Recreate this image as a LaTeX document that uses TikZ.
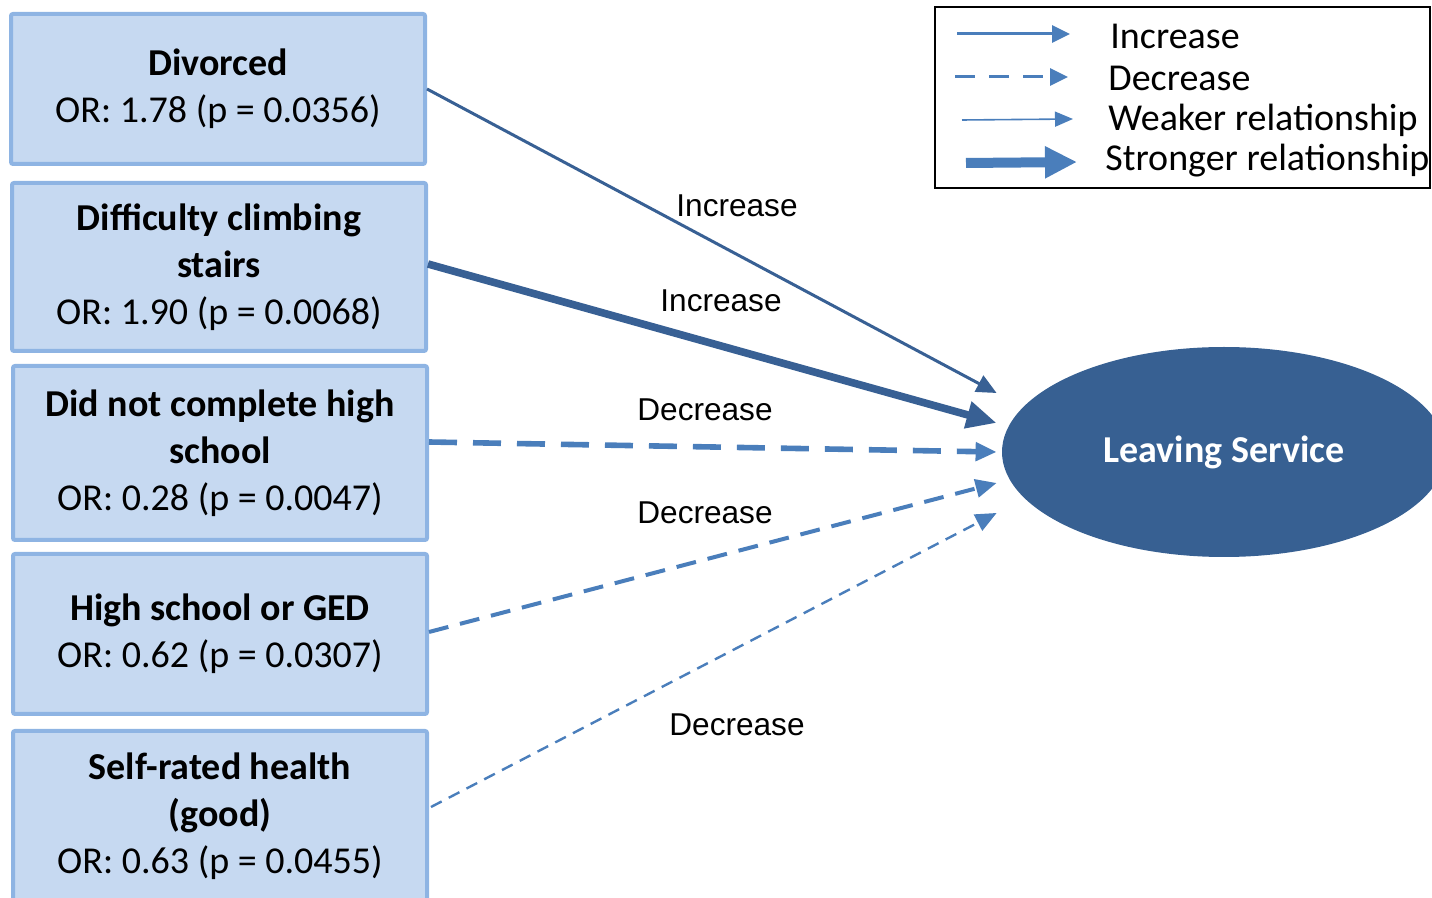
\documentclass[tikz,border=0pt]{standalone}
\usepackage{fontspec}
\setmainfont{Carlito}
\newfontfamily\arialfont{Liberation Sans}
\usetikzlibrary{shapes.geometric, arrows.meta, positioning, calc}
\definecolor{boxfill}{HTML}{C6D9F1}
\definecolor{boxline}{HTML}{8EB4E3}
\definecolor{darkblue}{HTML}{386094}
\definecolor{midblue}{HTML}{4A7EBB}
\definecolor{ovalblue}{HTML}{376092}

\begin{document}
\begin{tikzpicture}[x=0.5pt, y=-0.5pt,
    factor/.style={rectangle, draw=boxline, fill=boxfill, line width=2pt, rounded corners=1pt, minimum width=207pt, align=center, inner sep=0pt, font=\fontsize{19}{23.5}\selectfont},
    outcome/.style={ellipse, fill=ovalblue, text=white, minimum width=222pt, minimum height=105pt, inner sep=0pt, font=\fontsize{19}{22}\selectfont\bfseries},
    lbl/.style={font=\arialfont\fontsize{15.8}{18}\selectfont},
    legtext/.style={anchor=west, inner sep=0pt, font=\fontsize{19}{22}\selectfont},
    inc/.style={darkblue, -{Triangle[length=10pt, width=9pt]}},
    dec/.style={midblue, -{Triangle[length=10.5pt, width=9pt]}}
]
\useasboundingbox (0,0) rectangle (1432,898);
\clip (0,0) rectangle (1432,898);

% predictors
\node[factor, minimum height=75pt] (div) at (218,89) {\textbf{Divorced}\\OR: 1.78 (p = 0.0356)};
\node[factor, minimum height=84pt] (stairs) at (219,267) {\textbf{Difficulty climbing}\\\textbf{stairs}\\OR: 1.90 (p = 0.0068)};
\node[factor, minimum height=87pt] (nohs) at (220,453) {\textbf{Did not complete high}\\\textbf{school}\\OR: 0.28 (p = 0.0047)};
\node[factor, minimum height=80pt] (ged) at (220,634) {\textbf{High school or GED}\\OR: 0.62 (p = 0.0307)};
\node[factor, minimum height=85pt, anchor=north] (health) at (220,729) {\textbf{Self-rated health}\\\textbf{(good)}\\OR: 0.63 (p = 0.0455)};

% outcome
\node[outcome] (leave) at (1224,452) {Leaving Service};

% effects
\draw[inc, line width=1.5pt] (div.east) -- ($(leave.west)+(-5,-59)$);
\draw[darkblue, line width=3.8pt, -{Triangle[length=15pt, width=13pt]}] ($(stairs.east)+(0,-3)$) -- ($(leave.west)+(-5,-29)$);
\draw[dec, line width=2.8pt, dash pattern=on 14pt off 8pt] ($(nohs.east)+(0,-11)$) -- ($(leave.west)+(-5,0)$);
\draw[dec, line width=2pt, dash pattern=on 10pt off 6pt] ($(ged.east)+(0,-2)$) -- ($(leave.west)+(-5,31)$);
\draw[dec, line width=1.2pt, dash pattern=on 6pt off 4pt] ($(health.east)+(2,-9)$) -- ($(leave.west)+(-5,61)$);

\node[lbl] (l1) at (737,206) {Increase};
\node[lbl] (l2) at (721,301) {Increase};
\node[lbl] (l3) at (705,410) {Decrease};
\node[lbl] (l4) at (705,513) {Decrease};
\node[lbl] (l5) at (737,725) {Decrease};

% legend
\node[draw, line width=1pt, minimum width=247.5pt, minimum height=90.5pt, inner sep=0pt] (legend) at (1182.5,97.5) {};
\node[legtext] (tinc) at (1110,36) {Increase};
\node[legtext] (tdec) at (1108,78) {Decrease};
\node[legtext] (tweak) at (1108,120) {Weaker relationship};
\node[legtext] (tstrong) at (1105,161) {Stronger relationship};
\coordinate (a1) at (957,34);   \coordinate (b1) at (1070,34);
\coordinate (a2) at (955,77);   \coordinate (b2) at (1068,77);
\coordinate (a3) at (962,120);  \coordinate (b3) at (1073,119);
\coordinate (a4) at (966,163);  \coordinate (b4) at (1077,162);
\draw[midblue, line width=1.5pt, -{Triangle[length=9pt, width=8.5pt]}] (a1) -- (b1);
\draw[midblue, line width=1.5pt, dash pattern=on 10pt off 7pt, -{Triangle[length=9pt, width=8.5pt]}] (a2) -- (b2);
\draw[midblue, line width=0.8pt, -{Triangle[length=9pt, width=7.5pt]}] (a3) -- (b3);
\draw[midblue, line width=5pt, -{Triangle[length=16pt, width=15pt]}] (a4) -- (b4);
\end{tikzpicture}
\end{document}
